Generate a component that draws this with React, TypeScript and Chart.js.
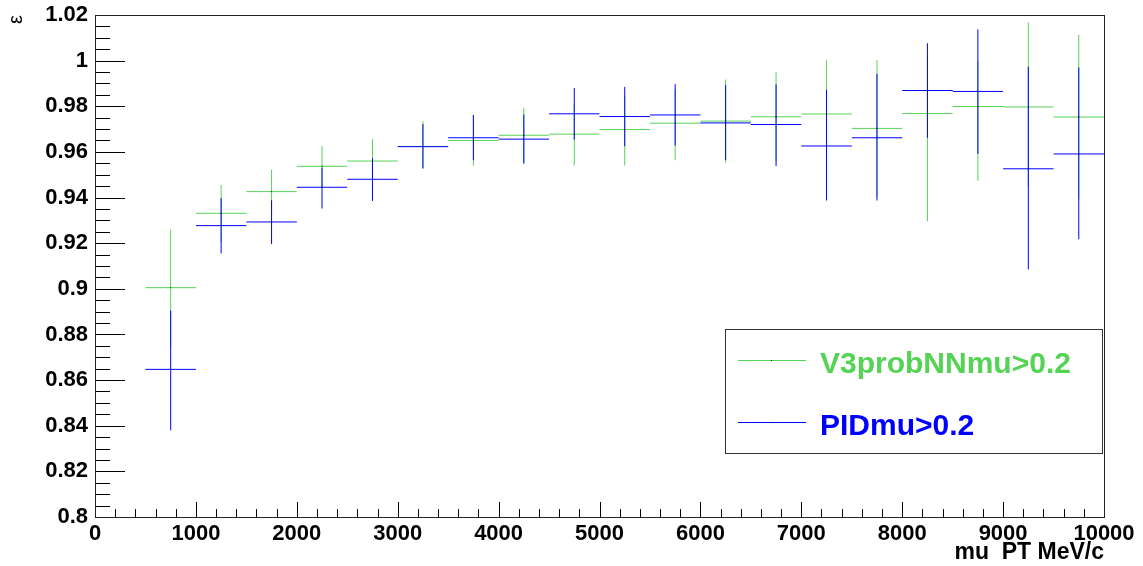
import React, { useEffect, useRef } from 'react';
import { Chart, registerables } from 'chart.js';

Chart.register(...registerables);

// ---- data ----
const binLowEdges = [500, 1000, 1500, 2000, 2500, 3000, 3500, 4000, 4500, 5000, 5500, 6000, 6500, 7000, 7500, 8000, 8500, 9000, 9500];
const binWidth = 500;

const seriesLabels = ['V3probNNmu>0.2', 'PIDmu>0.2'];

const greenValues = [0.9005, 0.9331, 0.9426, 0.9537, 0.956, 0.9624, 0.965, 0.9673, 0.9678, 0.9698, 0.9726, 0.9735, 0.9754, 0.9766, 0.9703, 0.9768, 0.9799, 0.9797, 0.9753];
const greenErrUp = [0.0255, 0.0124, 0.0096, 0.0089, 0.0096, 0.011, 0.011, 0.012, 0.0135, 0.015, 0.015, 0.0182, 0.0195, 0.0236, 0.03, 0.025, 0.02, 0.037, 0.036];
const greenErrDown = [0.026, 0.0128, 0.01, 0.009, 0.0096, 0.0098, 0.011, 0.012, 0.0138, 0.0158, 0.0162, 0.0182, 0.0195, 0.025, 0.03, 0.0472, 0.0326, 0.035, 0.036];

const blueValues = [0.8647, 0.9277, 0.9293, 0.9445, 0.948, 0.9623, 0.9662, 0.9656, 0.9767, 0.9755, 0.9762, 0.9727, 0.972, 0.9626, 0.9662, 0.9869, 0.9865, 0.9526, 0.9591];
const blueErrUp = [0.0258, 0.012, 0.0095, 0.0086, 0.0092, 0.0099, 0.01, 0.0108, 0.0113, 0.013, 0.0135, 0.0166, 0.0176, 0.0246, 0.028, 0.0207, 0.0272, 0.0447, 0.0379];
const blueErrDown = [0.0267, 0.0122, 0.0097, 0.0093, 0.0095, 0.0095, 0.0098, 0.0108, 0.0113, 0.013, 0.0134, 0.0162, 0.0182, 0.0239, 0.0275, 0.0207, 0.0274, 0.0441, 0.0374];

const xTicks = [0, 1000, 2000, 3000, 4000, 5000, 6000, 7000, 8000, 9000, 10000];
const xTickLabels = ['0', '1000', '2000', '3000', '4000', '5000', '6000', '7000', '8000', '9000', '10000'];
const yTicks = [0.8, 0.82, 0.84, 0.86, 0.88, 0.9, 0.92, 0.94, 0.96, 0.98, 1.0, 1.02];
const yTickLabels = ['0.8', '0.82', '0.84', '0.86', '0.88', '0.9', '0.92', '0.94', '0.96', '0.98', '1', '1.02'];

const xTitle = 'mu  PT MeV/c';
const yTitle = 'ε';

const GREEN = '#55d355';
const BLUE = '#0000ff';
const FONT = '"Liberation Sans", Arial, Helvetica, sans-serif';

function horizontalSegments(values: number[]) {
  const pts: any[] = [];
  values.forEach((v, i) => {
    const lo = binLowEdges[i];
    pts.push({ x: lo, y: v }, { x: lo + binWidth, y: v }, { x: lo + binWidth, y: null });
  });
  return pts;
}

function verticalSegments(values: number[], up: number[], down: number[]) {
  const pts: any[] = [];
  values.forEach((v, i) => {
    const c = binLowEdges[i] + binWidth / 2;
    pts.push({ x: c, y: v - down[i] }, { x: c, y: v + up[i] }, { x: c, y: null });
  });
  return pts;
}

function centers(values: number[]) {
  return values.map((v, i) => ({ x: binLowEdges[i] + binWidth / 2, y: v }));
}

const rootDecor = {
  id: 'rootDecor',
  afterDatasetsDraw(chart: any) {
    const { ctx, chartArea: a, scales } = chart;
    const xs = scales.x;
    const ys = scales.y;
    ctx.save();
    ctx.strokeStyle = '#000';
    ctx.lineWidth = 1;
    // y ticks (inside, from left axis)
    const yMin = 0.8;
    for (let k = 0; k <= 44; k++) {
      const v = yMin + k * 0.005;
      const py = Math.round(ys.getPixelForValue(v)) + 0.5;
      const len = k % 4 === 0 ? 30 : 15;
      ctx.beginPath();
      ctx.moveTo(a.left, py);
      ctx.lineTo(a.left + len, py);
      ctx.stroke();
    }
    // x ticks (inside, from bottom axis)
    for (let k = 0; k <= 50; k++) {
      const v = k * 200;
      const px = Math.round(xs.getPixelForValue(v)) + 0.5;
      const len = k % 5 === 0 ? 15 : 8;
      ctx.beginPath();
      ctx.moveTo(px, a.bottom);
      ctx.lineTo(px, a.bottom - len);
      ctx.stroke();
    }
    // frame
    ctx.strokeStyle = '#222';
    ctx.strokeRect(Math.round(a.left) + 0.5, Math.round(a.top) + 0.5, Math.round(a.right - a.left), Math.round(a.bottom - a.top));
    ctx.restore();

    // legend
    ctx.save();
    const lx = 725, ly = 329, lw = 377, lh = 124;
    ctx.fillStyle = '#fff';
    ctx.fillRect(lx, ly, lw, lh);
    ctx.strokeStyle = '#333';
    ctx.lineWidth = 1;
    ctx.strokeRect(lx + 0.5, ly + 0.5, lw, lh);
    const entries = [
      { label: seriesLabels[0], color: GREEN, lineY: 360.5, baseY: 373 },
      { label: seriesLabels[1], color: BLUE, lineY: 422.5, baseY: 435 },
    ];
    entries.forEach((e) => {
      ctx.strokeStyle = e.color;
      ctx.beginPath();
      ctx.moveTo(738, e.lineY);
      ctx.lineTo(806, e.lineY);
      ctx.stroke();
      ctx.fillStyle = '#000';
      ctx.fillRect(771, e.lineY - 0.5, 1, 1);
      ctx.fillStyle = e.color;
      ctx.font = `bold 30px ${FONT}`;
      ctx.textAlign = 'left';
      ctx.textBaseline = 'alphabetic';
      ctx.fillText(e.label, 820, e.baseY);
    });
    ctx.restore();
  },
};

export default function App() {
  const canvasRef = useRef<HTMLCanvasElement | null>(null);

  useEffect(() => {
    const canvas = canvasRef.current;
    if (!canvas) return;
    const common = {
      showLine: true,
      pointRadius: 0,
      pointHoverRadius: 0,
      borderWidth: 1,
      spanGaps: false,
      tension: 0,
      fill: false,
    };
    const marker = {
      showLine: false,
      pointRadius: 0.6,
      pointStyle: 'rect',
      pointBorderWidth: 0,
      backgroundColor: '#000',
      borderColor: '#000',
      order: -1,
    };
    const hiddenTickGrid = {
      display: true,
      drawOnChartArea: false,
      drawTicks: true,
      color: 'rgba(0,0,0,0)',
    };
    const chart = new Chart(canvas, {
      type: 'scatter',
      data: {
        datasets: [
          { ...marker, label: seriesLabels[1] + ' c', data: centers(blueValues) },
          { ...marker, label: seriesLabels[0] + ' c', data: centers(greenValues) },
          { ...common, label: seriesLabels[1] + ' h', data: horizontalSegments(blueValues), borderColor: BLUE, order: 0 },
          { ...common, label: seriesLabels[1] + ' v', data: verticalSegments(blueValues, blueErrUp, blueErrDown), borderColor: BLUE, order: 0 },
          { ...common, label: seriesLabels[0] + ' h', data: horizontalSegments(greenValues), borderColor: GREEN, order: 1 },
          { ...common, label: seriesLabels[0] + ' v', data: verticalSegments(greenValues, greenErrUp, greenErrDown), borderColor: GREEN, order: 1 },
        ],
      },
      options: {
        responsive: false,
        animation: false,
        devicePixelRatio: 1,
        events: [],
        layout: { padding: { left: 0, top: 15, right: 39, bottom: 0 } },
        plugins: { legend: { display: false }, tooltip: { enabled: false } },
        scales: {
          x: {
            type: 'linear',
            min: 0,
            max: 10000,
            grid: { ...hiddenTickGrid, tickLength: 1 },
            border: { display: false },
            afterBuildTicks: (s: any) => { s.ticks = xTicks.map((v) => ({ value: v })); },
            afterFit: (s: any) => { s.height = 49; },
            ticks: {
              autoSkip: false,
              maxRotation: 0,
              minRotation: 0,
              padding: 3,
              color: '#000',
              font: { family: FONT, size: 22, weight: 'bold' },
              callback: (_v: any, i: number) => xTickLabels[i],
            },
            title: {
              display: true,
              text: xTitle,
              align: 'end',
              color: '#000',
              padding: { top: 0, bottom: 0 },
              font: { family: FONT, size: 23, weight: 'bold' },
            },
          },
          y: {
            type: 'linear',
            min: 0.8,
            max: 1.02,
            grid: { ...hiddenTickGrid, tickLength: 7 },
            border: { display: false },
            afterBuildTicks: (s: any) => { s.ticks = yTicks.map((v) => ({ value: v })); },
            afterFit: (s: any) => { s.width = 95; },
            ticks: {
              padding: 0,
              color: '#000',
              font: { family: FONT, size: 22, weight: 'bold' },
              callback: (_v: any, i: number) => yTickLabels[i],
            },
            title: {
              display: true,
              text: yTitle,
              align: 'end',
              color: '#000',
              padding: { top: 4, bottom: 0 },
              font: { family: FONT, size: 20 },
            },
          },
        },
      },
      plugins: [rootDecor],
    } as any);
    return () => chart.destroy();
  }, []);

  return (
    <div style={{ position: 'absolute', left: 0, top: 0, width: 1143, height: 566, background: '#fff' }}>
      <canvas ref={canvasRef} width={1143} height={566} style={{ display: 'block' }} />
    </div>
  );
}
